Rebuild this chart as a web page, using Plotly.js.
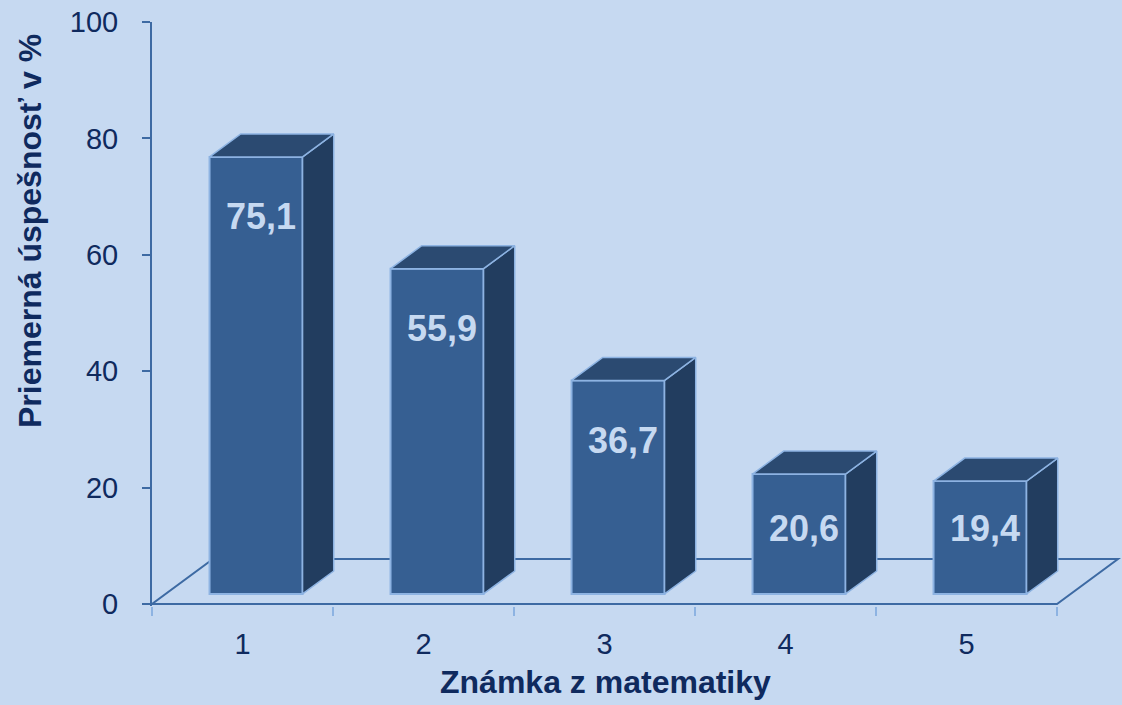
<!DOCTYPE html>
<html>
<head>
<meta charset="utf-8">
<script src="https://cdn.plot.ly/plotly-3.0.1.min.js"></script>
<style>html,body{margin:0;padding:0;background:#c6d9f1;}</style>
</head>
<body>
<div id="chart" style="width:1122px;height:705px;"></div>
<script>
// ---- data ----
const categories = ['1', '2', '3', '4', '5'];
const values = [75.1, 55.9, 36.7, 20.6, 19.4];
const yTicks = [0, 20, 40, 60, 80, 100];
const xTitle = 'Známka z matematiky';
const yTitle = 'Priemerná úspešnosť v %';

// ---- geometry (pseudo-3D projection, styling only) ----
const W = 1122, H = 705;
const ML = 152, MR = 0, MT = 22, MB = 99;
const PX_PER_CAT = 181;
const Y_MIN = -0.35, Y_MAX = 100;
const plotW = W - ML - MR, plotH = H - MT - MB;
const PX_PER_UNIT = plotH / (Y_MAX - Y_MIN);
const DEPTH_X = 61 / PX_PER_CAT;       // full floor depth, x units
const DEPTH_Y = 45 / PX_PER_UNIT;      // full floor depth, y units
const Z0 = 0.222, Z1 = 0.733;          // bar depth slab
const BAR_W = 0.514;

function proj(x, v, z) { return [x + z * DEPTH_X, v + z * DEPTH_Y]; }

const idx = categories.map((c, i) => i);

// top & side faces as filled polygons
const topX = [], topY = [], sideX = [], sideY = [];
idx.forEach(i => {
  const v = values[i], xl = i - BAR_W / 2, xr = i + BAR_W / 2;
  [[xl, v, Z0], [xr, v, Z0], [xr, v, Z1], [xl, v, Z1], [xl, v, Z0]].forEach(p => {
    const q = proj(p[0], p[1], p[2]); topX.push(q[0]); topY.push(q[1]);
  });
  topX.push(null); topY.push(null);
  [[xr, 0, Z0], [xr, v, Z0], [xr, v, Z1], [xr, 0, Z1], [xr, 0, Z0]].forEach(p => {
    const q = proj(p[0], p[1], p[2]); sideX.push(q[0]); sideY.push(q[1]);
  });
  sideX.push(null); sideY.push(null);
});

const edge = '#8db3e2';
const traces = [
  {
    type: 'bar',
    x: idx.map(i => proj(i, 0, Z0)[0]),
    y: values,
    base: proj(0, 0, Z0)[1],
    width: BAR_W,
    marker: { color: '#365f92', line: { color: edge, width: 2 } },
    hoverinfo: 'skip'
  },
  {
    type: 'scatter', mode: 'lines', x: sideX, y: sideY, fill: 'toself',
    fillcolor: '#223d5f', line: { color: edge, width: 1.5 }, hoverinfo: 'skip'
  },
  {
    type: 'scatter', mode: 'lines', x: topX, y: topY, fill: 'toself',
    fillcolor: '#2b4a71', line: { color: edge, width: 1.5 }, hoverinfo: 'skip'
  }
];

// floor outline
const xFirst = -0.5, xLast = categories.length - 0.5;
const floorPts = [[xFirst, 0, 0], [xLast, 0, 0], [xLast, 0, 1], [xFirst, 0, 1]].map(p => proj(p[0], p[1], p[2]));
const floorPath = 'M ' + floorPts.map(p => p[0] + ',' + p[1]).join(' L ') + ' Z';

const txtColor = '#0f2a5e';
const font = 'Liberation Sans, Arial, sans-serif';

const annotations = idx.map(i => {
  const v = values[i];
  const lblV = Math.max(v - 10.3, 11.3);
  const p = proj(i, lblV, Z0);
  return {
    xref: 'x', yref: 'y', x: p[0] + 5 / PX_PER_CAT, y: p[1],
    text: '<b>' + v.toFixed(1).replace('.', ',') + '</b>',
    showarrow: false, xanchor: 'center', yanchor: 'middle',
    font: { family: font, size: 36, color: '#c6d9f1' }
  };
});
annotations.push({
  xref: 'paper', yref: 'paper',
  x: (605 - ML) / plotW, y: (H - MB - 682) / plotH,
  text: '<b>' + xTitle + '</b>', showarrow: false, xanchor: 'center', yanchor: 'middle',
  font: { family: font, size: 32, color: txtColor }
});
annotations.push({
  xref: 'paper', yref: 'paper',
  x: (30 - ML) / plotW, y: (H - MB - 231) / plotH,
  text: '<b>' + yTitle + '</b>', textangle: -90, showarrow: false,
  xanchor: 'center', yanchor: 'middle',
  font: { family: font, size: 32, color: txtColor }
});

const layout = {
  width: W, height: H,
  margin: { l: ML, r: MR, t: MT, b: MB, pad: 0 },
  paper_bgcolor: '#c6d9f1', plot_bgcolor: '#c6d9f1',
  showlegend: false,
  xaxis: {
    range: [xFirst, xFirst + plotW / PX_PER_CAT],
    tickmode: 'array', tickvals: idx, ticktext: categories,
    ticks: '', showline: false, showgrid: false, zeroline: false,
    ticklabelstandoff: 18,
    tickfont: { family: font, size: 29, color: txtColor },
    minor: { tick0: -0.5, dtick: 1, ticks: 'outside', ticklen: 9, tickwidth: 2, tickcolor: edge, showgrid: false },
    fixedrange: true
  },
  yaxis: {
    range: [Y_MIN, Y_MAX],
    tickmode: 'array', tickvals: yTicks,
    ticks: 'outside', ticklen: 8, tickwidth: 2, tickcolor: '#3d6aa3',
    showline: true, linecolor: '#3d6aa3', linewidth: 2,
    showgrid: false, zeroline: false,
    ticklabelstandoff: 18,
    tickfont: { family: font, size: 29, color: txtColor },
    fixedrange: true
  },
  shapes: [{
    type: 'path', xref: 'x', yref: 'y', path: floorPath, layer: 'below',
    line: { color: '#3d6aa3', width: 2 }, fillcolor: 'rgba(0,0,0,0)'
  }],
  annotations: annotations
};

Plotly.newPlot('chart', traces, layout, { displayModeBar: false, staticPlot: true });
</script>
</body>
</html>
